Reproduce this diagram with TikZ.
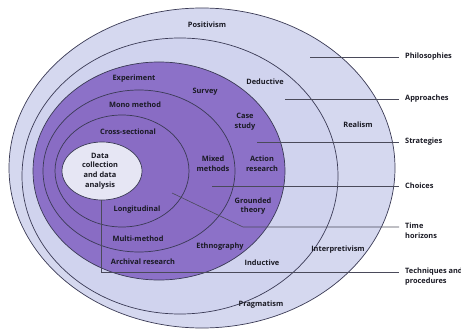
\documentclass[tikz,border=0pt]{standalone}
\usepackage{fontspec}
\setmainfont{Open Sans}
\usetikzlibrary{shapes.geometric}
\definecolor{ringlight}{HTML}{D5D8EF}
\definecolor{ringlight2}{HTML}{D0D3EE}
\definecolor{purplering}{HTML}{8C71C8}
\definecolor{purpleinner}{HTML}{896CC4}
\definecolor{centerfill}{HTML}{E6E6F4}
\definecolor{ringline}{HTML}{3A3A55}
\definecolor{labtext}{HTML}{1A1A24}
\definecolor{linkc}{HTML}{4A4A5A}
\begin{document}
\begin{tikzpicture}[x=1pt,y=-1pt,
  ring/.style={ellipse, draw=ringline, line width=0.7pt, inner sep=0pt, outer sep=0pt},
  lab/.style={font=\fontsize{7.4}{9.8}\selectfont\bfseries, text=labtext, align=center, inner sep=0pt},
  side/.style={font=\fontsize{7.4}{9.8}\selectfont\bfseries, text=labtext, align=left, inner sep=0pt},
  link/.style={draw=linkc, line width=0.6pt}]
\useasboundingbox (0,0) rectangle (461,329);
\fill[white] (0,0) rectangle (461,329);
% rings
\node[ring, fill=ringlight, minimum width=386pt, minimum height=320pt] (phil) at (202,168) {};
\node[ring, fill=ringlight2, minimum width=316pt, minimum height=276pt] (appr) at (180,176) {};
\node[ring, fill=purplering, minimum width=252pt, minimum height=218pt] (strat) at (159,171) {};
\node[ring, fill=purpleinner, minimum width=192pt, minimum height=162pt] (choi) at (139,171) {};
\node[ring, fill=purpleinner, minimum width=134pt, minimum height=112pt] (time) at (122,171) {};
\node[ring, fill=centerfill, minimum width=80pt, minimum height=58pt] (core) at (102,171) {};
% labels in rings
\node[lab] (positivism) at (207,25) {Positivism};
\node[lab] (deductive) at (265,82) {Deductive};
\node[lab] (realism) at (358,125) {Realism};
\node[lab] (interp) at (338,250) {Interpretivism};
\node[lab] (inductive) at (262,263) {Inductive};
\node[lab] (pragmatism) at (261,305) {Pragmatism};
\node[lab] (experiment) at (134,79) {Experiment};
\node[lab] (survey) at (205,92) {Survey};
\node[lab] (mono) at (135,105) {Mono method};
\node[lab] (cross) at (128,132) {Cross-sectional};
\node[lab] (casestudy) at (245,122) {Case\\study};
\node[lab] (mixed) at (213,164) {Mixed\\methods};
\node[lab] (action) at (262,164) {Action\\research};
\node[lab] (grounded) at (253,206) {Grounded\\theory};
\node[lab] (longi) at (137,210) {Longitudinal};
\node[lab] (multi) at (138,239) {Multi-method};
\node[lab] (ethno) at (220,247) {Ethnography};
\node[lab] (archival) at (143,262) {Archival research};
\node[lab] (data) at (100,171) {Data\\collection\\and data\\analysis};
% side labels
\node[side, anchor=west] (lphil) at (405,57) {Philosophies};
\node[side, anchor=west] (lappr) at (405,99) {Approaches};
\node[side, anchor=west] (lstrat) at (405,142) {Strategies};
\node[side, anchor=west] (lchoi) at (405,186) {Choices};
\node[side, anchor=north west] (ltime) at (405,222.5) {Time\\horizons};
\node[side, anchor=north west] (ltech) at (405,267.5) {Techniques and\\procedures};
% connectors
\coordinate (p1) at (310,57);  \coordinate (p2) at (399,57);
\coordinate (a1) at (285,99);  \coordinate (a2) at (399,99);
\coordinate (s1) at (257,142); \coordinate (s2) at (399,142);
\coordinate (c1) at (212,186); \coordinate (c2) at (399,186);
\coordinate (t1) at (172,193); \coordinate (t2) at (243,227); \coordinate (t3) at (399,227);
\coordinate (q2) at (101,272); \coordinate (q3) at (399,272);
\draw[link] (p1) -- (p2);
\draw[link] (a1) -- (a2);
\draw[link] (s1) -- (s2);
\draw[link] (c1) -- (c2);
\draw[link] (t1) -- (t2) -- (t3);
\draw[link] (core.south -| q2) -- (q2) -- (q3);
\end{tikzpicture}
\end{document}
